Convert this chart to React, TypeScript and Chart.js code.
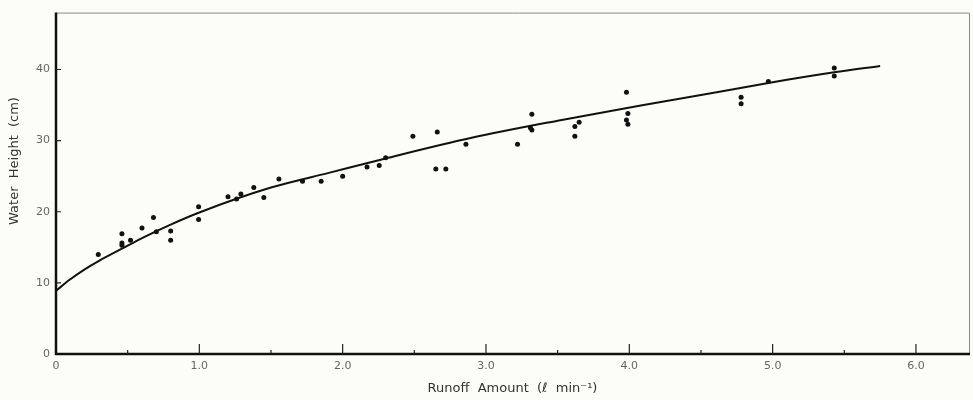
import React, { useEffect, useRef } from "react";
import { Chart, registerables } from "chart.js";

Chart.register(...registerables);

// Observed data points (runoff amount l/min, water height cm)
const obsX = [0.295, 0.46, 0.46, 0.46, 0.52, 0.6, 0.68, 0.7, 0.8, 0.8, 0.995, 0.995, 1.2, 1.26, 1.29, 1.38, 1.45, 1.555, 1.72, 1.85, 2.0, 2.17, 2.255, 2.3, 2.49, 2.66, 2.65, 2.72, 2.86, 3.22, 3.32, 3.31, 3.32, 3.62, 3.65, 3.62, 3.98, 3.99, 3.98, 3.99, 4.78, 4.78, 4.97, 5.43, 5.43];
const obsY = [14.0, 16.9, 15.6, 15.3, 16.0, 17.7, 19.2, 17.2, 17.3, 16.0, 20.7, 18.9, 22.1, 21.8, 22.5, 23.4, 22.0, 24.6, 24.3, 24.3, 25.0, 26.3, 26.5, 27.6, 30.6, 31.2, 26.0, 26.0, 29.5, 29.5, 33.7, 31.8, 31.5, 32.0, 32.6, 30.6, 36.8, 33.8, 32.9, 32.3, 36.1, 35.2, 38.3, 40.2, 39.1];

// Fitted curve
const curveX = [0, 0.1, 0.2, 0.3, 0.46, 0.6, 0.8, 1.0, 1.5, 1.91, 2.3, 2.9, 3.5, 4.07, 4.5, 4.97, 5.43, 5.75];
const curveY = [8.9, 10.5, 11.9, 13.1, 14.8, 16.3, 18.2, 19.9, 23.4, 25.5, 27.5, 30.4, 32.8, 34.9, 36.4, 38.1, 39.6, 40.5];

// Axis ticks
const xTicks = [0, 1, 2, 3, 4, 5, 6];
const xMinorTicks = [0.5, 1.5, 2.5, 3.5, 4.5, 5.5];
const yTicks = [0, 10, 20, 30, 40];
const xLabel = "Runoff  Amount  (\u2113  min\u207B\u00B9)";
const yLabel = "Water  Height  (cm)";

const FONT = "'DejaVu Sans', 'Liberation Sans', sans-serif";

const framePlugin = {
  id: "frame",
  afterDraw(chart: any) {
    const { ctx, chartArea, scales } = chart;
    const { left, right, top, bottom } = chartArea;
    const x = scales.x;
    const y = scales.y;
    ctx.save();
    // thin top/right border
    ctx.strokeStyle = "#8a8a8a";
    ctx.lineWidth = 1;
    ctx.beginPath();
    ctx.moveTo(left, top + 0.5);
    ctx.lineTo(right + 0.5, top + 0.5);
    ctx.lineTo(right + 0.5, bottom);
    ctx.stroke();
    // thick left/bottom axes
    ctx.strokeStyle = "#111";
    ctx.lineWidth = 2.5;
    ctx.beginPath();
    ctx.moveTo(left, top);
    ctx.lineTo(left, bottom);
    ctx.lineTo(right + 1, bottom);
    ctx.stroke();
    // ticks
    ctx.lineWidth = 1.2;
    ctx.strokeStyle = "#222";
    ctx.beginPath();
    xTicks.forEach((v) => {
      if (v === 0) return;
      const px = x.getPixelForValue(v);
      ctx.moveTo(px, bottom);
      ctx.lineTo(px, bottom - 10);
    });
    xMinorTicks.forEach((v) => {
      const px = x.getPixelForValue(v);
      ctx.moveTo(px, bottom);
      ctx.lineTo(px, bottom - 4);
    });
    yTicks.forEach((v) => {
      if (v === 0) return;
      const py = y.getPixelForValue(v);
      ctx.moveTo(left, py);
      ctx.lineTo(left + 5, py);
    });
    ctx.stroke();
    // y-axis title
    ctx.translate(15, 161);
    ctx.rotate(-Math.PI / 2);
    ctx.fillStyle = "#333";
    ctx.font = `13px ${FONT}`;
    ctx.textAlign = "center";
    ctx.textBaseline = "middle";
    ctx.fillText(yLabel, 0, 0);
    ctx.restore();
  },
};

export default function App() {
  const ref = useRef<HTMLCanvasElement | null>(null);

  useEffect(() => {
    if (!ref.current) return;
    const chart = new Chart(ref.current, {
      type: "scatter",
      data: {
        datasets: [
          {
            label: "observed",
            data: obsX.map((v, i) => ({ x: v, y: obsY[i] })),
            backgroundColor: "#111",
            borderColor: "#111",
            pointRadius: 2.5,
            pointBorderWidth: 0,
            showLine: false,
          },
          {
            label: "fit",
            data: curveX.map((v, i) => ({ x: v, y: curveY[i] })),
            borderColor: "#111",
            borderWidth: 2,
            pointRadius: 0,
            showLine: true,
            cubicInterpolationMode: "monotone",
          } as any,
        ],
      },
      options: {
        animation: false,
        responsive: true,
        maintainAspectRatio: false,
        layout: { padding: { top: 7, right: 4, left: 0, bottom: 0 } },
        plugins: { legend: { display: false }, tooltip: { enabled: false } },
        scales: {
          x: {
            type: "linear",
            min: 0,
            max: 6.37,
            grid: { display: false, drawTicks: false },
            border: { display: false },
            afterBuildTicks: (s: any) => {
              s.ticks = xTicks.map((v) => ({ value: v }));
            },
            afterFit: (s: any) => {
              s.height = 46;
            },
            ticks: {
              padding: 6,
              color: "#666",
              font: { family: FONT, size: 11 },
              callback: (v: any) => (Number(v) === 0 ? "0" : Number(v).toFixed(1)),
              maxRotation: 0,
            },
            title: {
              display: true,
              text: xLabel,
              color: "#333",
              font: { family: FONT, size: 13 },
              padding: { top: 0, bottom: 4 },
            },
          },
          y: {
            type: "linear",
            min: 0,
            max: 48,
            grid: { display: false, drawTicks: false },
            border: { display: false },
            afterBuildTicks: (s: any) => {
              s.ticks = yTicks.map((v) => ({ value: v }));
            },
            afterFit: (s: any) => {
              s.width = 56;
            },
            ticks: {
              padding: 6,
              color: "#666",
              font: { family: FONT, size: 11 },
            },
          },
        },
      },
      plugins: [framePlugin],
    });
    return () => chart.destroy();
  }, []);

  return (
    <div
      style={{
        position: "fixed",
        left: 0,
        top: 0,
        width: 973,
        height: 400,
        background: "#fcfcf8",
      }}
    >
      <canvas ref={ref} />
    </div>
  );
}
